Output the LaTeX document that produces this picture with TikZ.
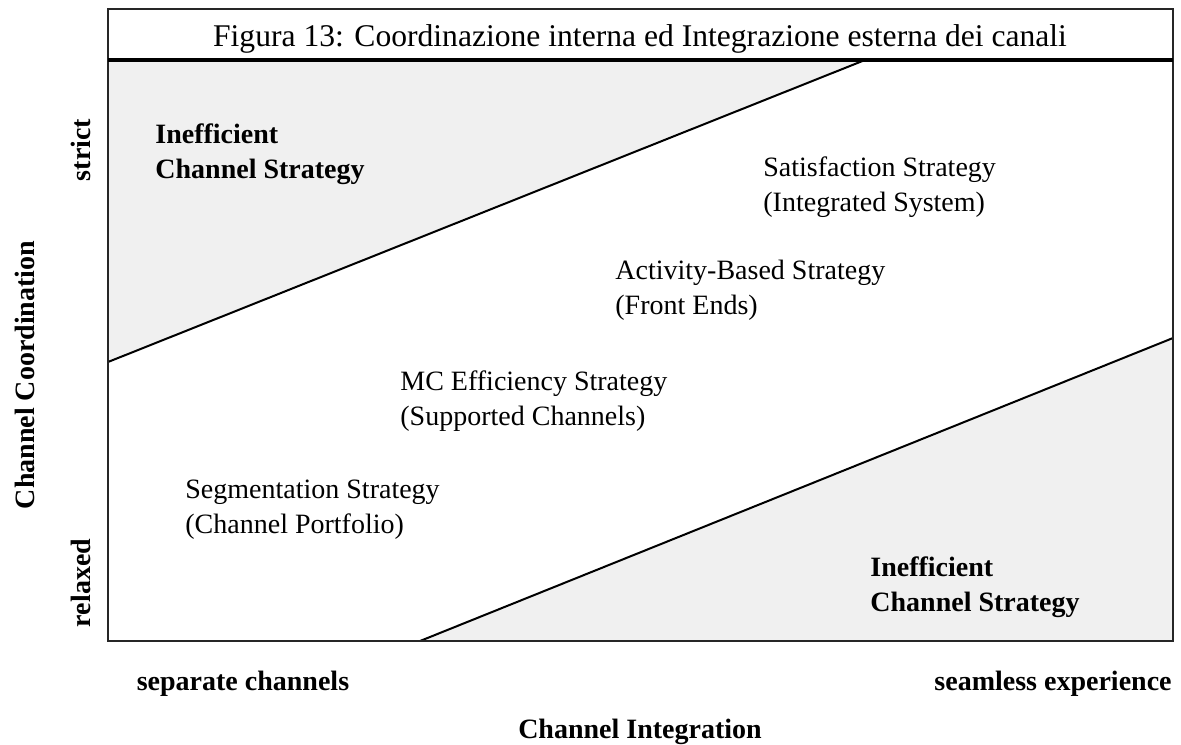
\documentclass[tikz,border=0pt]{standalone}
\usepackage{fontspec}
\setmainfont{Liberation Serif}
\begin{document}
\begin{tikzpicture}[x=0.5pt,y=-0.5pt,
  lbl/.style={font=\fontsize{14}{17.5}\selectfont, inner sep=0pt, align=left},
  blbl/.style={lbl, font=\fontsize{14}{17.5}\selectfont\bfseries},
  zone/.style={fill=black!6, draw=none},
  border/.style={draw=black!85, line width=1pt}]
\useasboundingbox (0,0) rectangle (1181,744);
% frame corners
\coordinate (tl) at (108,9);
\coordinate (tr) at (1173,9);
\coordinate (hl) at (108,60);
\coordinate (hr) at (1173,60);
\coordinate (bl) at (108,641);
\coordinate (br) at (1173,641);
% ends of the two diagonal boundaries
\coordinate (ua) at (108,362);
\coordinate (ub) at (865,60);
\coordinate (la) at (420,641);
\coordinate (lb) at (1173,338);
% shaded inefficient zones
\fill[zone] (hl) -- (ub) -- (ua) -- cycle;
\fill[zone] (la) -- (lb) -- (br) -- cycle;
\draw[line width=1pt] (ua) -- (ub);
\draw[line width=1pt] (la) -- (lb);
% frame and title bar
\draw[border] (tl) rectangle (br);
\draw[line width=1.6pt] (hl) -- (hr);
\node[lbl, font=\fontsize{15.8}{19}\selectfont, anchor=base] (title) at (640,46)
  {Figura 13: Coordinazione interna ed Integrazione esterna dei canali};
% strategy labels (base anchor = baseline of the second line)
\node[blbl, anchor=base west] (ineffA) at (155,178) {Inefficient\\Channel Strategy};
\node[lbl, anchor=base west] (satis) at (763,211) {Satisfaction Strategy\\(Integrated System)};
\node[lbl, anchor=base west] (activ) at (615,314) {Activity-Based Strategy\\(Front Ends)};
\node[lbl, anchor=base west] (mceff) at (400,425) {MC Efficiency Strategy\\(Supported Channels)};
\node[lbl, anchor=base west] (segm) at (185,533) {Segmentation Strategy\\(Channel Portfolio)};
\node[blbl, anchor=base west] (ineffB) at (870,611) {Inefficient\\Channel Strategy};
% axes
\node[blbl, anchor=base] (sep) at (243,690) {separate channels};
\node[blbl, anchor=base east] (seam) at (1172,690) {seamless experience};
\node[blbl, anchor=base] (xaxis) at (640,738) {Channel Integration};
\node[blbl, rotate=90, anchor=base] (strict) at (90,150) {strict};
\node[blbl, rotate=90, anchor=base] (relax) at (90,583) {relaxed};
\node[blbl, rotate=90, anchor=base] (yaxis) at (34,375) {Channel Coordination};
\end{tikzpicture}
\end{document}
